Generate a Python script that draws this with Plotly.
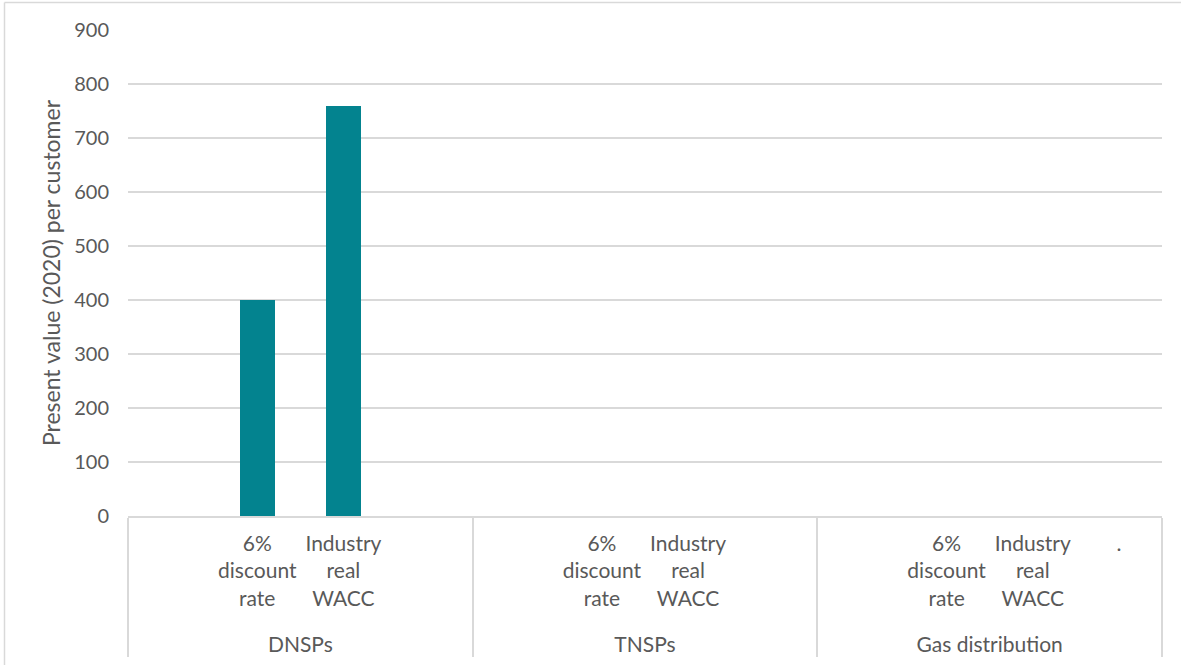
import plotly.graph_objects as go

groups = ["DNSPs"] * 4 + ["TNSPs"] * 4 + ["Gas distribution"] * 4
subcats = [" ", "6%<br>discount<br>rate<br> ", "Industry<br>real<br>WACC<br> ", "  ",
           " ", "6%<br>discount<br>rate<br> ", "Industry<br>real<br>WACC<br> ", "  ",
           " ", "6%<br>discount<br>rate<br> ", "Industry<br>real<br>WACC<br> ", "."]
values = [None, 400, 760, None,
          None, None, None, None,
          None, None, None, None]
y_ticks = [0, 100, 200, 300, 400, 500, 600, 700, 800, 900]

W, H = 1181, 665
ml, mr, mt, mb = 128, 19, 30, 149

fig = go.Figure(go.Bar(
    x=[groups, subcats], y=values,
    marker=dict(color="#03838F", line=dict(width=0)),
    width=0.41,
))

font = dict(family="Lato, Calibri, sans-serif", size=20, color="#595959")
xfont = dict(family="Lato, Calibri, sans-serif", size=21, color="#595959")
title_font = dict(family="Lato, Calibri, sans-serif", size=23, color="#595959")
fig.update_layout(
    width=W, height=H,
    margin=dict(l=ml, r=mr, t=mt, b=mb, autoexpand=False),
    paper_bgcolor="white", plot_bgcolor="white",
    font=font, showlegend=False,
    bargap=0,
)
fig.update_xaxes(
    type="multicategory",
    showline=True, linecolor="#D9D9D9", linewidth=1.5,
    showgrid=False, ticks="", tickangle=0,
    showdividers=True, dividercolor="#D9D9D9", dividerwidth=1.5,
    tickfont=xfont, ticklabelstandoff=8,
)
fig.update_yaxes(
    range=[0, 900], tickvals=y_ticks,
    showgrid=True, gridcolor="#D9D9D9", gridwidth=1.5,
    zeroline=False, showline=False, ticks="",
    tickfont=font, ticklabelstandoff=18,
    title=dict(text="Present value (2020) per customer", font=title_font, standoff=7),
)
pw = W - ml - mr
ph = H - mt - mb
# figure border (top and left)
fig.add_shape(type="line", xref="paper", yref="paper",
              x0=(4.5 - ml) / pw, x1=(W - ml) / pw,
              y0=1 + (mt - 2.5) / ph, y1=1 + (mt - 2.5) / ph,
              line=dict(color="#D9D9D9", width=1.5))
fig.add_shape(type="line", xref="paper", yref="paper",
              x0=(4.5 - ml) / pw, x1=(4.5 - ml) / pw,
              y0=1 + (mt - 2.5) / ph, y1=-mb / ph,
              line=dict(color="#D9D9D9", width=1.5))

fig.write_html("out.html")
